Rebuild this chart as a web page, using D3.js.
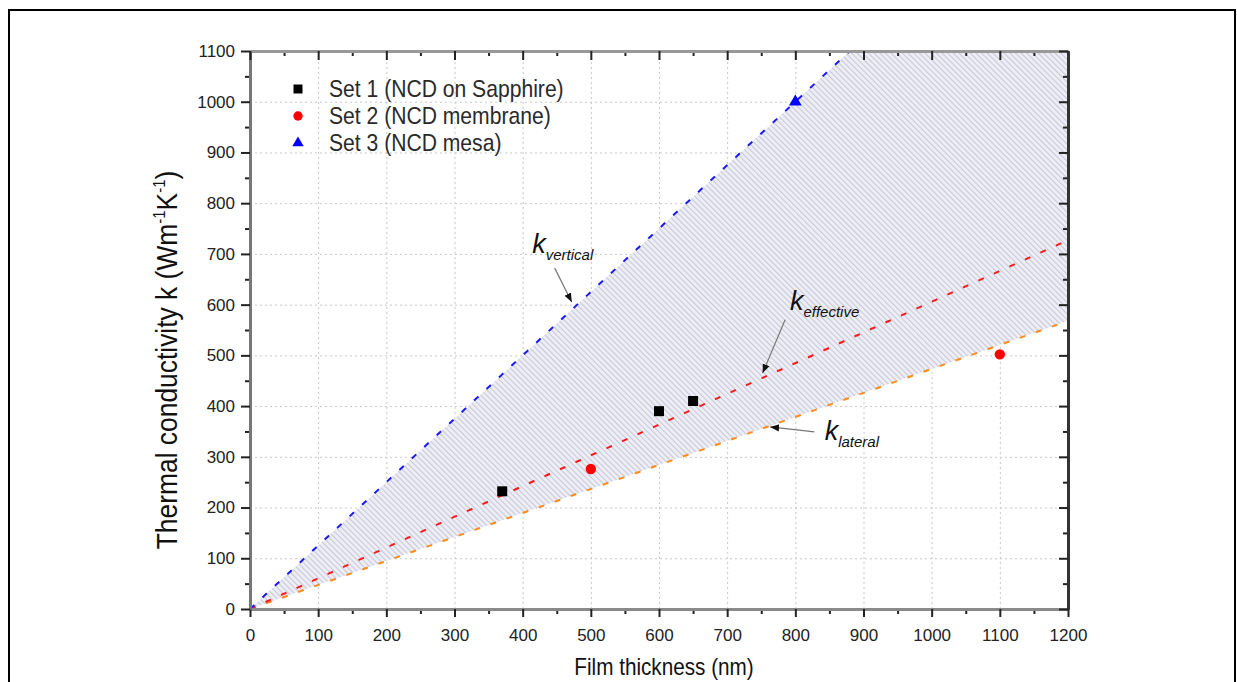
<!DOCTYPE html>
<html>
<head>
<meta charset="utf-8">
<style>
  body { margin: 0; background: #fff; font-family: "Liberation Sans", Arial, sans-serif; }
  .grid line { stroke: #c8c8c8; stroke-dasharray: 2,3; }
  .grid path { display: none; }
</style>
<title>Thermal conductivity vs film thickness</title>
</head>
<body>
<script src="https://cdn.jsdelivr.net/npm/d3@7"></script>
<script>

// measured points
var set1 = [[370, 232], [600, 390], [650, 410]];   // NCD on Sapphire
var set2 = [[500, 276], [1100, 502]];              // NCD membrane
var set3 = [[800, 1000]];                          // NCD mesa

// bounding lines
var kVertical  = [[0, 0], [880, 1100]];
var kEffective = [[0, 0], [1200, 727]];
var kLateral   = [[0, 0], [1200, 568]];

var xTicks = [0, 100, 200, 300, 400, 500, 600, 700, 800, 900, 1000, 1100, 1200];
var yTicks = [0, 100, 200, 300, 400, 500, 600, 700, 800, 900, 1000, 1100];
var xMinor = [50, 150, 250, 350, 450, 550, 650, 750, 850, 950, 1050, 1150];
var yMinor = [50, 150, 250, 350, 450, 550, 650, 750, 850, 950, 1050];

var legendNames = ["Set 1 (NCD on Sapphire)", "Set 2 (NCD membrane)", "Set 3 (NCD mesa)"];

// annotation anchors (data units): label, arrow tail, arrow tip
var notes = [
  {sub: "vertical",  label: [414, 701], tail: [447, 672], tip: [472, 605]},
  {sub: "effective", label: [792, 589], tail: [785, 570], tip: [752, 465]},
  {sub: "lateral",   label: [843, 333], tail: [828, 349], tip: [763, 359]}
];

var W = 1237, H = 682;
var x = d3.scaleLinear().domain([0, 1200]).range([250, 1068]);
var y = d3.scaleLinear().domain([0, 1100]).range([609, 51]);
var fmt = d3.format("d");

var svg = d3.select("body").append("svg")
    .attr("width", W)
    .attr("height", H);

var defs = svg.append("defs");
defs.append("clipPath").attr("id", "plotclip")
  .append("rect")
    .attr("x", x(0)).attr("y", y(1100))
    .attr("width", x(1200) - x(0)).attr("height", y(0) - y(1100));

var pat = defs.append("pattern")
    .attr("id", "hatch")
    .attr("patternUnits", "userSpaceOnUse")
    .attr("width", 4).attr("height", 10)
    .attr("patternTransform", "rotate(-45)");
pat.append("rect").attr("width", 4).attr("height", 10).attr("fill", "#eeeefa");
pat.append("line").attr("x1", 0.6).attr("x2", 0.6).attr("y1", 0).attr("y2", 10)
    .attr("stroke", "#c6c6cc").attr("stroke-width", 1);

defs.append("marker")
    .attr("id", "arrow")
    .attr("viewBox", "0 0 10 10")
    .attr("refX", 10).attr("refY", 5)
    .attr("markerWidth", 9).attr("markerHeight", 9)
    .attr("markerUnits", "userSpaceOnUse")
    .attr("orient", "auto")
  .append("path")
    .attr("d", "M0,1 L10,5 L0,9 Z")
    .attr("fill", "#111");

// outer frame
svg.append("rect")
    .attr("x", 9).attr("y", 10)
    .attr("width", 1226).attr("height", 690)
    .attr("fill", "none").attr("stroke", "#000").attr("stroke-width", 2);

// grid
svg.append("g").attr("class", "grid")
    .attr("transform", `translate(0,${y(0)})`)
    .call(d3.axisBottom(x).tickValues(xTicks).tickSize(-(y(0) - y(1100))).tickFormat(""));
svg.append("g").attr("class", "grid")
    .attr("transform", `translate(${x(0)},0)`)
    .call(d3.axisLeft(y).tickValues(yTicks).tickSize(-(x(1200) - x(0))).tickFormat(""));

// hatched band between vertical and lateral
var band = kVertical.concat([[1200, 1100]], kLateral.slice().reverse());
var line = d3.line().x(d => x(d[0])).y(d => y(d[1]));
svg.append("path")
    .attr("clip-path", "url(#plotclip)")
    .attr("d", line(band) + "Z")
    .attr("fill", "url(#hatch)");

var fits = [[kLateral, "#ff8c1a"], [kEffective, "#ff1a1a"], [kVertical, "#1a1aff"]];
fits.forEach(function(f) {
  svg.append("path")
      .attr("clip-path", "url(#plotclip)")
      .attr("d", line(f[0]))
      .attr("fill", "none")
      .attr("stroke", f[1])
      .attr("stroke-width", 2)
      .attr("stroke-dasharray", "6,11");
});

// axes
function styleAxis(g, lineColor) {
  g.select(".domain").attr("stroke", lineColor).attr("stroke-width", 3);
  g.selectAll(".tick line").attr("stroke", "#222").attr("stroke-width", 2);
  g.selectAll("text").attr("font-size", 17).attr("fill", "#222")
    .attr("font-family", "Liberation Sans, Arial, sans-serif");
}

var axB = svg.append("g").attr("transform", `translate(0,${y(0)})`);
axB.append("g").call(d3.axisBottom(x).tickValues(xMinor).tickSize(5).tickSizeOuter(0).tickFormat(""))
  .call(g => styleAxis(g, "#8a8a8a"));
axB.append("g").call(d3.axisBottom(x).tickValues(xTicks).tickSize(8).tickSizeOuter(0).tickPadding(12).tickFormat(fmt))
  .call(g => styleAxis(g, "#8a8a8a"));

var axL = svg.append("g").attr("transform", `translate(${x(0)},0)`);
axL.append("g").call(d3.axisLeft(y).tickValues(yMinor).tickSize(5).tickSizeOuter(0).tickFormat(""))
  .call(g => styleAxis(g, "#777"));
axL.append("g").call(d3.axisLeft(y).tickValues(yTicks).tickSize(9).tickSizeOuter(0).tickPadding(6).tickFormat(fmt))
  .call(g => styleAxis(g, "#777"));

var axT = svg.append("g").attr("transform", `translate(0,${y(1100)})`);
axT.append("g").call(d3.axisTop(x).tickValues(xMinor).tickSize(-5).tickSizeOuter(0).tickFormat(""))
  .call(g => styleAxis(g, "#999"));
axT.append("g").call(d3.axisTop(x).tickValues(xTicks).tickSize(-9).tickSizeOuter(0).tickFormat(""))
  .call(g => styleAxis(g, "#999"));

var axR = svg.append("g").attr("transform", `translate(${x(1200)},0)`);
axR.append("g").call(d3.axisRight(y).tickValues(yMinor).tickSize(-5).tickSizeOuter(0).tickFormat(""))
  .call(g => styleAxis(g, "#333"));
axR.append("g").call(d3.axisRight(y).tickValues(yTicks).tickSize(-9).tickSizeOuter(0).tickFormat(""))
  .call(g => styleAxis(g, "#333"));

// data points
var sq = d3.symbol().type(d3.symbolSquare).size(100);
var ci = d3.symbol().type(d3.symbolCircle).size(85);
var tr = d3.symbol().type(d3.symbolTriangle).size(70);
var series = [[set1, sq, "#000"], [set2, ci, "#ff0000"], [set3, tr, "#0000ff"]];
series.forEach(function(s) {
  svg.append("g").selectAll("path").data(s[0]).join("path")
      .attr("transform", d => `translate(${x(d[0])},${y(d[1])})`)
      .attr("d", s[1])
      .attr("fill", s[2]);
});

// legend
var legend = svg.append("g").attr("transform", "translate(298,89)");
legendNames.forEach(function(name, i) {
  var row = legend.append("g").attr("transform", `translate(0,${i * 27})`);
  row.append("path").attr("d", series[i][1]).attr("fill", series[i][2])
      .attr("transform", "scale(0.9)");
  row.append("text")
      .attr("transform", "translate(31,8) scale(0.88,1)")
      .attr("font-size", 24)
      .attr("fill", "#2a2a2a")
      .text(name);
});

// annotations
notes.forEach(function(n) {
  svg.append("line")
      .attr("x1", x(n.tail[0])).attr("y1", y(n.tail[1]))
      .attr("x2", x(n.tip[0])).attr("y2", y(n.tip[1]))
      .attr("stroke", "#777").attr("stroke-width", 1.2)
      .attr("marker-end", "url(#arrow)");
  var t = svg.append("text")
      .attr("x", x(n.label[0])).attr("y", y(n.label[1]))
      .attr("font-style", "italic")
      .attr("fill", "#111");
  t.append("tspan").attr("font-size", 27).text("k");
  t.append("tspan").attr("font-size", 15).attr("dy", 7).text(n.sub);
});

// axis titles
svg.append("text")
    .attr("transform", `translate(${(x(0) + x(1200)) / 2 + 5},675) scale(0.9,1)`)
    .attr("text-anchor", "middle")
    .attr("font-size", 23)
    .attr("fill", "#111")
    .text("Film thickness (nm)");

var yt = svg.append("text")
    .attr("transform", "translate(177,360) rotate(-90) scale(0.88,1)")
    .attr("text-anchor", "middle")
    .attr("font-size", 30)
    .attr("fill", "#111");
yt.append("tspan").text("Thermal conductivity k (Wm");
yt.append("tspan").attr("font-size", 17).attr("dy", -12).text("-1");
yt.append("tspan").attr("dy", 12).text("K");
yt.append("tspan").attr("font-size", 17).attr("dy", -12).text("-1");
yt.append("tspan").attr("dy", 12).text(")");

</script>
</body>
</html>
